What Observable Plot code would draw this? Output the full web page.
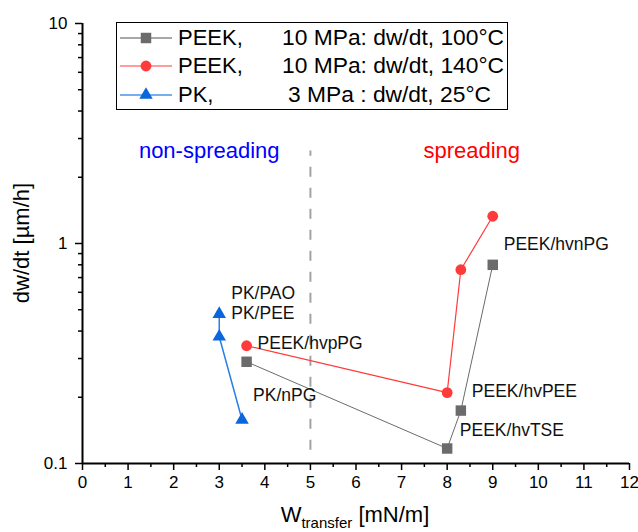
<!DOCTYPE html>
<html>
<head>
<meta charset="utf-8">
<script src="https://cdn.jsdelivr.net/npm/d3@7"></script>
<script src="https://cdn.jsdelivr.net/npm/@observablehq/plot@0.6"></script>
<style>
  html, body { margin: 0; padding: 0; background: #fff; }
  #chart { position: relative; width: 638px; height: 532px; font-family: "Liberation Sans", Arial, sans-serif; }
  #legend { position: absolute; left: 116px; top: 22px; width: 392px; height: 88px; box-sizing: border-box;
            border: 1.5px solid #000; background: #fff; font-size: 22px; color: #000; }
  #legend .row { position: absolute; left: 0; height: 28px; width: 100%; }
  #legend .row svg { position: absolute; left: 2px; top: 0; }
  #legend .name { position: absolute; left: 61px; top: 2px; line-height: 24px; white-space: pre; }
  #legend .desc { position: absolute; top: 1px; line-height: 24px; white-space: pre; font-size: 22.8px; }
</style>
</head>
<body>
<div id="chart"></div>
<script>
// Wear rate dw/dt versus work of transfer for the PEEK and PK tribo-pairs.
const peek100X = [3.6, 8.0, 8.3, 9.0];
const peek100Y = [0.29, 0.117, 0.174, 0.80];
const peek140X = [3.6, 8.0, 8.3, 9.0];
const peek140Y = [0.343, 0.21, 0.76, 1.33];
const pkX = [3.0, 3.0, 3.5];
const pkY = [0.478, 0.377, 0.158];

const seriesNames = ["PEEK,", "PEEK,", "PK,"];
const seriesConditions = ["10 MPa: dw/dt, 100°C", "10 MPa: dw/dt, 140°C", "3 MPa : dw/dt, 25°C"];

const xTicks = d3.range(0, 13);
const xMinorTicks = d3.range(0.5, 12, 1);
const yTicks = [0.1, 1, 10];
const yMinorTicks = [0.1, 1].flatMap(d => d3.range(2, 10).map(k => +(k * d).toPrecision(2)));

// spreading / non-spreading boundary and its extent on the wear axis
const boundaryW = 5;
const boundaryFrom = 0.115;
const boundaryTo = 2.63;
const regionNames = ["non-spreading", "spreading"];
const regionX = [2.78, 8.54];
const regionY = 2.63;

const rows = (xs, ys) => xs.map((x, i) => ({x, y: ys[i]}));
const peek100 = rows(peek100X, peek100Y);
const peek140 = rows(peek140X, peek140Y);
const pk = rows(pkX, pkY);
const regions = regionNames.map((label, i) => ({label, x: regionX[i], y: regionY}));

const gray = "#6b6b6b", red = "#ff3a3a", blue = "#0a66da";

// a text note next to one measured point
const note = (data, i, text, dx, dy) =>
  Plot.text([data[i]], {x: "x", y: "y", text: () => text, dx, dy, textAnchor: "start",
                        fontSize: 17.5, fill: "#111"});

const plot = Plot.plot({
  width: 638,
  height: 532,
  marginLeft: 82,
  marginRight: 9,
  marginTop: 23,
  marginBottom: 69,
  style: {fontFamily: "'Liberation Sans', Arial, sans-serif", fontSize: "17px", color: "#000", background: "#fff"},
  x: {domain: [0, 12], label: null},
  y: {type: "log", domain: [0.1, 10], label: null},
  marks: [
    Plot.ruleX([boundaryW], {y1: boundaryFrom, y2: boundaryTo, stroke: "#a3a3a3", strokeWidth: 2, strokeDasharray: "10,11"}),
    Plot.text(regions, {x: "x", y: "y", text: "label", fontSize: 22,
                        fill: d => d.label === "spreading" ? "#ff0000" : "#0000ff"}),
    Plot.line(peek100, {x: "x", y: "y", stroke: gray, strokeWidth: 1}),
    Plot.line(peek140, {x: "x", y: "y", stroke: red, strokeWidth: 1.2}),
    Plot.line(pk, {x: "x", y: "y", stroke: "#2680e8", strokeWidth: 1.5}),
    Plot.dot(peek100, {x: "x", y: "y", symbol: "square", r: 5.9, fill: gray, stroke: null}),
    Plot.dot(peek140, {x: "x", y: "y", symbol: "circle", r: 5.4, fill: red, stroke: null}),
    Plot.dot(pk, {x: "x", y: "y", symbol: "triangle", r: 5.0, fill: blue, stroke: null}),
    note(pk, 0, "PK/PAO", 12, -21),
    note(pk, 0, "PK/PEE", 12, -1),
    note(pk, 2, "PK/nPG", 11, -24),
    note(peek140, 0, "PEEK/hvpPG", 11, -2),
    note(peek100, 2, "PEEK/hvPEE", 11, -19),
    note(peek100, 2, "PEEK/hvTSE", -1, 20),
    note(peek100, 3, "PEEK/hvnPG", 11, -20),
    Plot.axisX({ticks: xTicks, tickSize: 7, tickPadding: 5, strokeWidth: 1.5, label: null}),
    Plot.axisX({ticks: xMinorTicks, tickSize: 4, tickFormat: () => "", strokeWidth: 1.5, label: null}),
    Plot.axisY({ticks: yTicks, tickSize: 7, tickPadding: 8, strokeWidth: 1.5, tickFormat: d => String(d), label: null}),
    Plot.axisY({ticks: yMinorTicks, tickSize: 4, tickFormat: () => "", strokeWidth: 1.5, label: null}),
    Plot.ruleX([0], {stroke: "#000", strokeWidth: 2}),
    Plot.ruleY([0.1], {stroke: "#000", strokeWidth: 2})
  ]
});

const chart = document.getElementById("chart");
chart.appendChild(plot);

// axis titles (the x title carries a subscript)
const svg = d3.select(plot);
svg.append("text")
  .attr("transform", "translate(21,243) rotate(-90)")
  .attr("text-anchor", "middle")
  .attr("dominant-baseline", "central")
  .attr("font-size", 22)
  .attr("fill", "#000")
  .text("dw/dt [µm/h]");
const xt = svg.append("text")
  .attr("x", 355).attr("y", 522)
  .attr("text-anchor", "middle")
  .attr("font-size", 22)
  .attr("fill", "#000");
xt.append("tspan").text("W");
xt.append("tspan").attr("font-size", 15).attr("dy", 6).text("transfer");
xt.append("tspan").attr("dy", -6).text(" [mN/m]");

// legend
const legendSymbols = [
  {line: "#a8a8a8", fill: gray, symbol: d3.symbolSquare, size: 110},
  {line: "#ff9c9c", fill: red, symbol: d3.symbolCircle, size: 92},
  {line: "#76aef0", fill: blue, symbol: d3.symbolTriangle, size: 78}
];
const descLeft = [165, 165, 171];
const legend = d3.select(chart).append("div").attr("id", "legend");
seriesNames.forEach((name, i) => {
  const row = legend.append("div").attr("class", "row").style("top", `${i * 28.4 + 1}px`);
  const s = row.append("svg").attr("width", 54).attr("height", 28);
  s.append("line").attr("x1", 1).attr("x2", 53).attr("y1", 14).attr("y2", 14)
    .attr("stroke", legendSymbols[i].line).attr("stroke-width", 1.8);
  s.append("path").attr("transform", "translate(27,14)")
    .attr("d", d3.symbol(legendSymbols[i].symbol, legendSymbols[i].size)())
    .attr("fill", legendSymbols[i].fill);
  row.append("span").attr("class", "name").text(name);
  row.append("span").attr("class", "desc").style("left", `${descLeft[i]}px`).text(seriesConditions[i]);
});
</script>
</body>
</html>
